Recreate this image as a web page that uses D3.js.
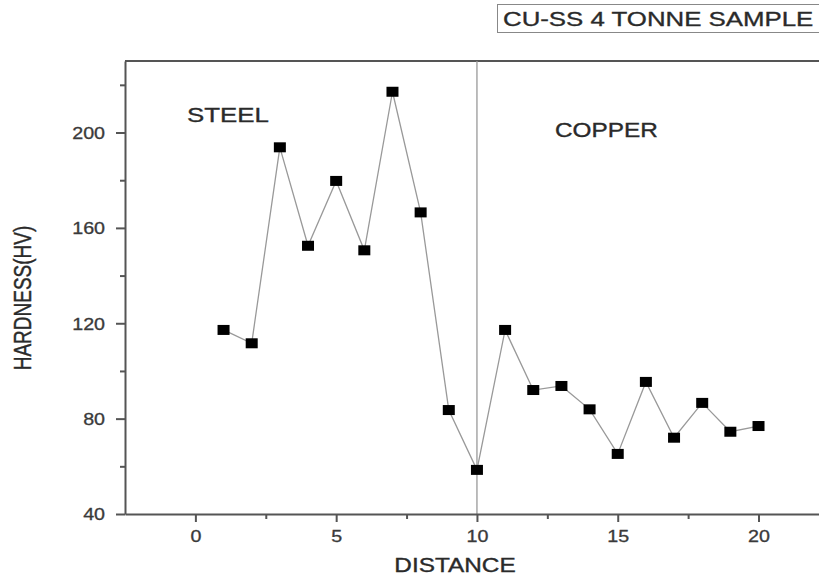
<!DOCTYPE html>
<html>
<head>
<meta charset="utf-8">
<script src="https://cdn.jsdelivr.net/npm/d3@7"></script>
<style>
  html, body { margin: 0; padding: 0; background: #fff; }
  svg { display: block; font-family: "Liberation Sans", Arial, sans-serif; }
</style>
</head>
<body>
<svg id="chart" width="819" height="578"></svg>
<script>
// ---- data ----
const distance = [1, 2, 3, 4, 5, 6, 7, 8, 9, 10, 11, 12, 13, 14, 15, 16, 17, 18, 19, 20];
const hardness = [117.2, 111.6, 193.8, 152.5, 179.7, 150.6, 217.1, 166.5, 83.6, 58.5,
                  117.2, 92.0, 93.7, 83.9, 65.2, 95.4, 72.0, 86.6, 74.5, 76.9];
const xTicks = [0, 5, 10, 15, 20];
const xMinorTicks = [2.5, 7.5, 12.5, 17.5];
const yTicks = [40, 80, 120, 160, 200];
const yMinorTicks = [60, 100, 140, 180, 220];
const boundaryX = 10;
const titleText = "CU-SS 4 TONNE SAMPLE";
const regionLabels = [{ text: "STEEL" }, { text: "COPPER" }];
const xLabel = "DISTANCE";
const yLabel = "HARDNESS(HV)";

// ---- layout ----
const svg = d3.select("#chart");
const S = 1.23; // horizontal stretch of the reference
const x = d3.scaleLinear().domain([-2.5, 22.5]).range([125, 828.9]);
const y = d3.scaleLinear().domain([40, 230]).range([514, 61]);
const axisColor = "#555";
const textColor = "#2a2a2a";

// top frame line
svg.append("line")
  .attr("x1", x(-2.5)).attr("x2", x(22.5))
  .attr("y1", y(230)).attr("y2", y(230))
  .attr("stroke", axisColor).attr("stroke-width", 2);
// right frame line (off canvas)
svg.append("line")
  .attr("x1", x(22.5)).attr("x2", x(22.5))
  .attr("y1", y(230)).attr("y2", y(40))
  .attr("stroke", axisColor).attr("stroke-width", 2);

// boundary line
svg.append("line")
  .attr("x1", x(boundaryX)).attr("x2", x(boundaryX))
  .attr("y1", y(230)).attr("y2", y(40))
  .attr("stroke", "#999").attr("stroke-width", 1.3);

// data line
const line = d3.line().x((d, i) => x(distance[i])).y(d => y(d));
svg.append("path")
  .datum(hardness)
  .attr("d", line)
  .attr("fill", "none")
  .attr("stroke", "#999")
  .attr("stroke-width", 1.3);

// markers
svg.selectAll("rect.pt")
  .data(hardness)
  .join("rect")
  .attr("class", "pt")
  .attr("x", (d, i) => x(distance[i]) - 6)
  .attr("y", d => y(d) - 5)
  .attr("width", 12)
  .attr("height", 10)
  .attr("fill", "#000");

// axes
function styleAxis(g) {
  g.select(".domain").attr("stroke", axisColor).attr("stroke-width", 2);
  g.selectAll(".tick line").attr("stroke", axisColor).attr("stroke-width", 2);
  g.selectAll(".tick text")
    .attr("fill", "#3a3a3a")
    .attr("stroke", "#3a3a3a").attr("stroke-width", 0.3)
    .attr("font-size", 16)
    .attr("font-family", "Liberation Sans, Arial, sans-serif");
}

const gx = svg.append("g")
  .attr("transform", `translate(0,${y(40)})`)
  .call(d3.axisBottom(x).tickValues(xTicks).tickSize(8).tickSizeOuter(0).tickFormat(d3.format("d")));
styleAxis(gx);
gx.selectAll(".tick text")
  .attr("y", 28).attr("dy", 0)
  .attr("transform", `scale(${S},1)`);

svg.append("g")
  .attr("transform", `translate(0,${y(40)})`)
  .call(d3.axisBottom(x).tickValues(xMinorTicks).tickSize(5).tickFormat(""))
  .call(g => { g.select(".domain").remove(); g.selectAll(".tick line").attr("stroke", axisColor).attr("stroke-width", 2); });

const gy = svg.append("g")
  .attr("transform", `translate(${x(-2.5)},0)`)
  .call(d3.axisLeft(y).tickValues(yTicks).tickSize(9).tickSizeOuter(0).tickFormat(d3.format("d")));
styleAxis(gy);
gy.selectAll(".tick text")
  .attr("x", -20 / S)
  .attr("dy", "0.36em")
  .attr("transform", `scale(${S},1)`);

svg.append("g")
  .attr("transform", `translate(${x(-2.5)},0)`)
  .call(d3.axisLeft(y).tickValues(yMinorTicks).tickSize(5).tickFormat(""))
  .call(g => { g.select(".domain").remove(); g.selectAll(".tick line").attr("stroke", axisColor).attr("stroke-width", 2); });

// stretched text helper
function stretchedText(parent, txt, cx, cy, size, anchor, rotate) {
  const g = parent.append("g")
    .attr("transform", `translate(${cx},${cy})` + (rotate ? ` rotate(${rotate})` : "") +
      (rotate ? ` scale(1,${S})` : ` scale(${S},1)`));
  g.append("text")
    .attr("text-anchor", anchor)
    .attr("font-size", size)
    .attr("fill", textColor)
    .attr("stroke", textColor).attr("stroke-width", 0.35)
    .text(txt);
  return g;
}

// title box
svg.append("rect")
  .attr("x", 497.5).attr("y", 4.5)
  .attr("width", 340).attr("height", 28)
  .attr("fill", "#fff")
  .attr("stroke", "#888").attr("stroke-width", 1);
stretchedText(svg, titleText, 503, 26, 21, "start");

// region labels
stretchedText(svg, regionLabels[0].text, 187, 122, 21, "start");
stretchedText(svg, regionLabels[1].text, 555, 137, 19.8, "start");

// axis titles
stretchedText(svg, xLabel, 455, 572, 19.8, "middle");
stretchedText(svg, yLabel, 31, 298, 19, "middle", -90);
</script>
</body>
</html>
